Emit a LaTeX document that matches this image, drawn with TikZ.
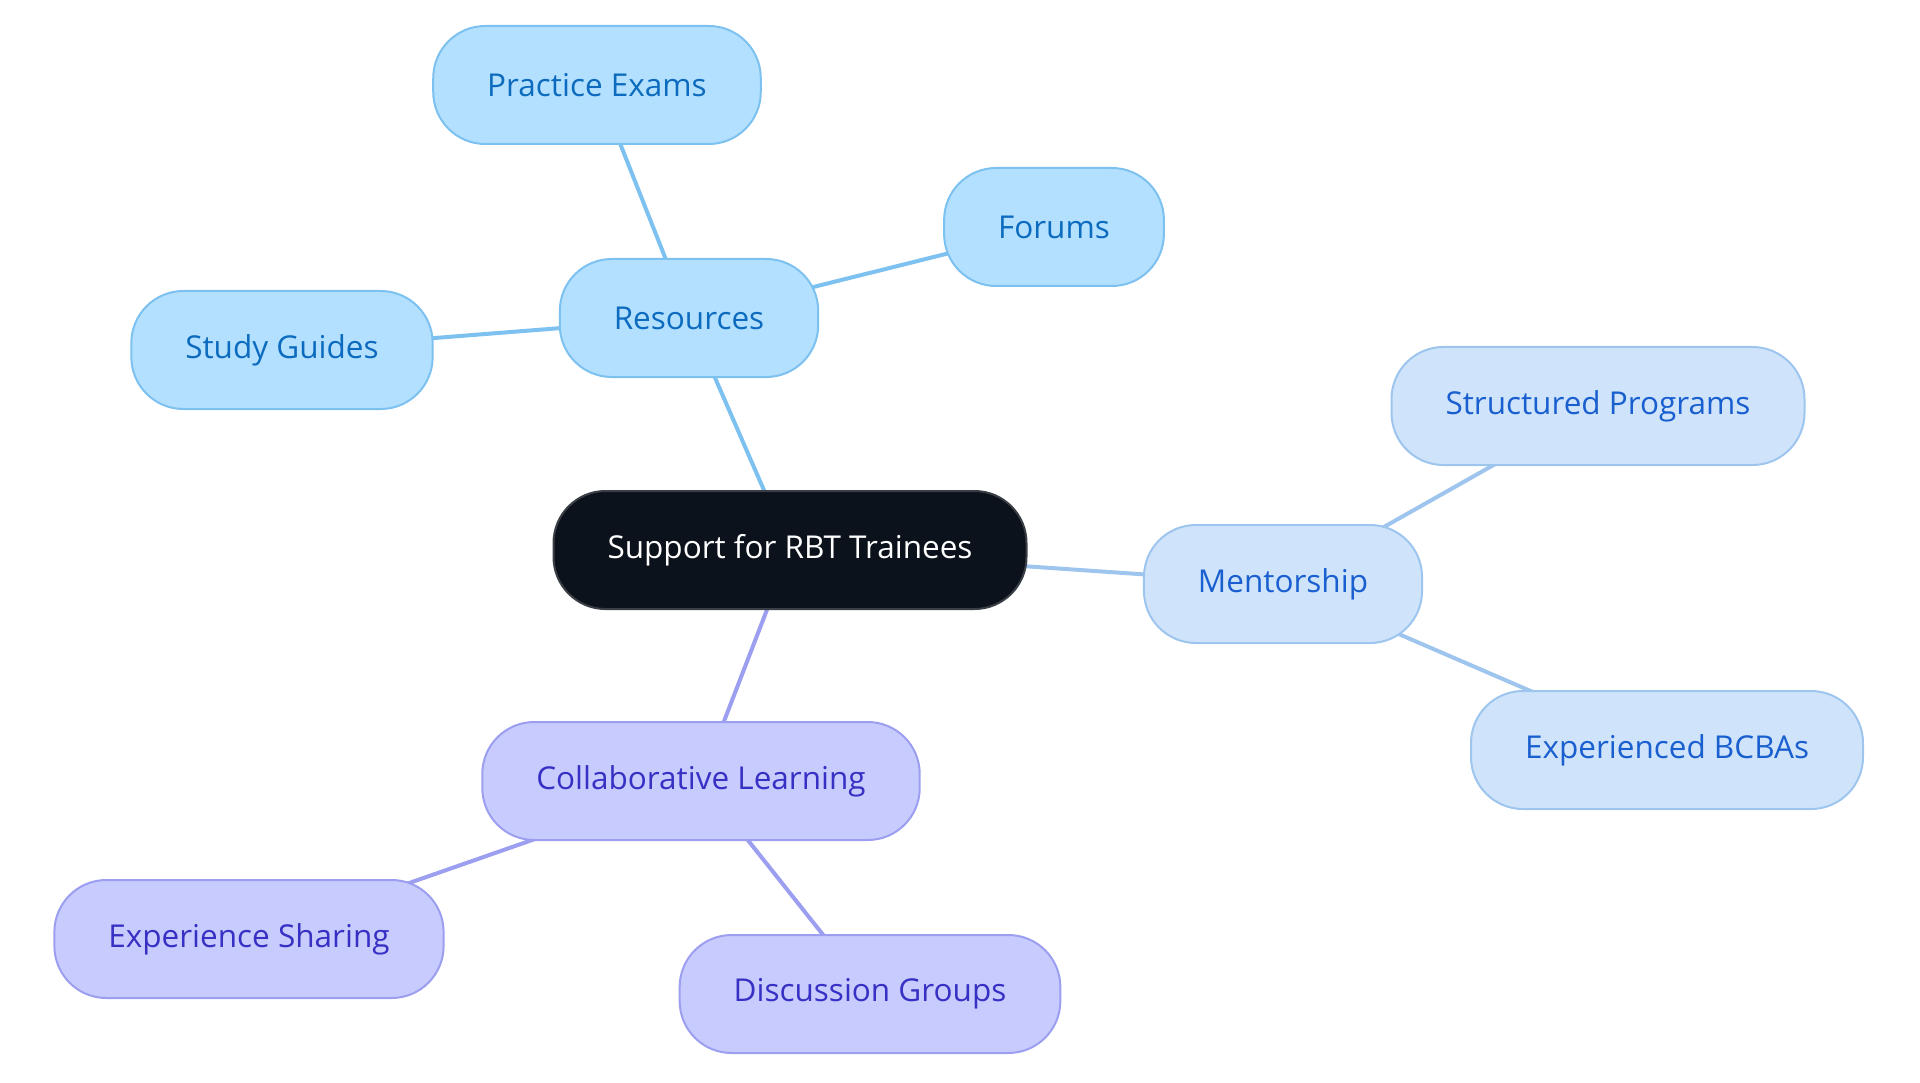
\documentclass[tikz,border=0pt]{standalone}
\usepackage{fontspec}
\setmainfont{Open Sans}
\usetikzlibrary{positioning,backgrounds}

\definecolor{rootfill}{HTML}{0B121B}
\definecolor{rootline}{HTML}{3A3F46}
\definecolor{resfill}{HTML}{B3E0FE}
\definecolor{resline}{HTML}{7DC1F0}
\definecolor{restext}{HTML}{0C6BBF}
\definecolor{menfill}{HTML}{CFE4FB}
\definecolor{menline}{HTML}{9EC5EE}
\definecolor{mentext}{HTML}{1A5FCF}
\definecolor{colfill}{HTML}{C8CBFD}
\definecolor{colline}{HTML}{9C9FF0}
\definecolor{coltext}{HTML}{3730C4}

\begin{document}
\begin{tikzpicture}[x=1pt, y=-1pt, line width = 2pt,
  topic/.style={rounded corners=52pt, minimum height=118pt, inner xsep=54pt,
    font=\fontsize{31.5}{38}\selectfont},
  res/.style={topic, draw=resline, fill=resfill, text=restext},
  men/.style={topic, draw=menline, fill=menfill, text=mentext},
  col/.style={topic, draw=colline, fill=colfill, text=coltext},
  link/.style={line width=4pt}]

\useasboundingbox (0,0) rectangle (1920,1083);

\node [topic, draw=rootline, fill=rootfill, text=white] (root) at (790,550) {Support for RBT Trainees};

% resources branch
\node [res] (resources) at (689,318) {Resources};
\node [res] (exams) at (597,85) {Practice Exams};
\node [res] (forums) at (1054,227) {Forums};
\node [res] (guides) at (282,350) {Study Guides};

% mentorship branch
\node [men] (mentor) at (1283,584) {Mentorship};
\node [men] (programs) at (1598,406) {Structured Programs};
\node [men] (bcbas) at (1667,750) {Experienced BCBAs};

% collaborative branch
\node [col] (collab) at (701,781) {Collaborative Learning};
\node [col] (sharing) at (249,939) {Experience Sharing};
\node [col] (groups) at (870,994) {Discussion Groups};

\begin{pgfonlayer}{background}
\draw[link, resline] (root.center) -- (resources.center);
\draw[link, resline] (resources.center) -- (exams.center);
\draw[link, resline] (resources.center) -- (forums.center);
\draw[link, resline] (resources.center) -- (guides.center);

\draw[link, menline] (root.center) -- (mentor.center);
\draw[link, menline] (mentor.center) -- (programs.center);
\draw[link, menline] (mentor.center) -- (bcbas.center);

\draw[link, colline] (root.center) -- (collab.center);
\draw[link, colline] (collab.center) -- (sharing.center);
\draw[link, colline] (collab.center) -- (groups.center);
\end{pgfonlayer}

\end{tikzpicture}
\end{document}
